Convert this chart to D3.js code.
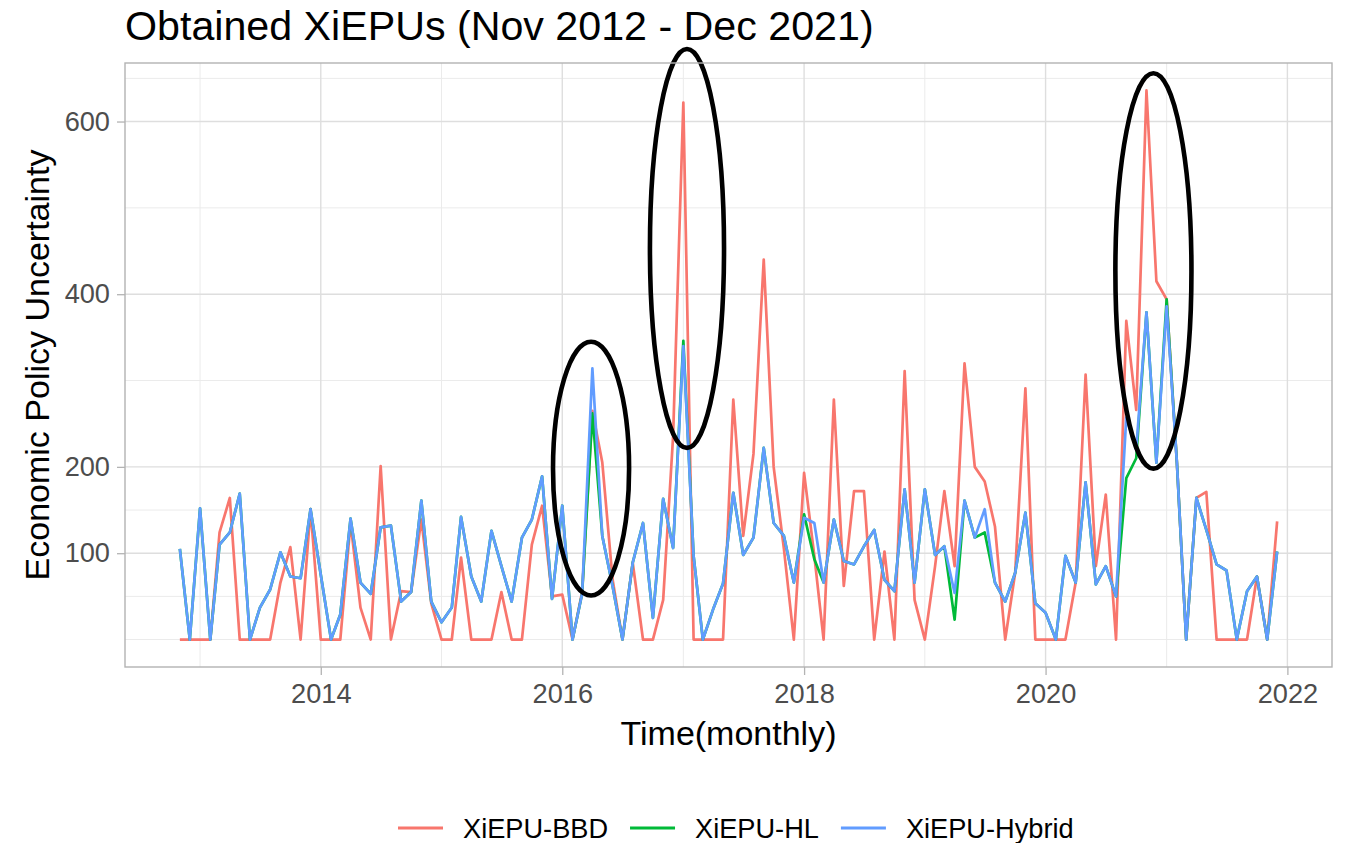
<!DOCTYPE html>
<html>
<head>
<meta charset="utf-8">
<script src="https://cdn.jsdelivr.net/npm/d3@7"></script>
<style>
  body { margin: 0; background: #fff; }
  text { font-family: "Liberation Sans", Arial, sans-serif; }
</style>
</head>
<body>
<svg id="viz" width="1350" height="843"></svg>
<script>
// monthly observations, Nov 2012 .. Dec 2021
var months = d3.timeMonth.range(new Date(2012, 10, 1), new Date(2022, 0, 1));

// values, one row per calendar year
var bbd = [
  0, 0,
  0, 0, 124, 164, 0, 0, 0, 0, 66, 107, 0, 151,
  0, 0, 0, 135, 37, 0, 201, 0, 56, 55, 139, 42,
  0, 0, 95, 0, 0, 0, 55, 0, 0, 110, 155, 50,
  52, 0, 55, 265, 205, 70, 0, 89, 0, 0, 46, 235,
  622, 0, 0, 0, 0, 278, 120, 215, 440, 200, 105, 0,
  193, 97, 0, 278, 62, 172, 172, 0, 102, 0, 311, 46,
  0, 85, 172, 85, 320, 200, 183, 131, 0, 77, 291, 0,
  0, 0, 0, 66, 307, 85, 168, 0, 369, 266, 636, 415,
  394, 205, 0, 164, 171, 0, 0, 0, 0, 73, 0, 137
];
var hl = [
  105, 0,
  152, 0, 110, 124, 169, 0, 37, 58, 101, 73, 71, 151,
  75, 0, 29, 140, 66, 53, 130, 132, 44, 55, 161, 44,
  20, 37, 142, 73, 44, 126, 85, 44, 118, 139, 189, 47,
  155, 0, 53, 262, 120, 62, 0, 89, 135, 25, 163, 106,
  346, 97, 0, 35, 65, 170, 98, 118, 222, 135, 120, 66,
  145, 93, 66, 139, 91, 87, 108, 127, 69, 56, 174, 66,
  174, 98, 108, 23, 161, 118, 124, 66, 44, 77, 147, 42,
  31, 0, 97, 66, 182, 64, 85, 50, 187, 210, 379, 205,
  394, 205, 0, 164, 127, 87, 80, 0, 56, 73, 0, 102
];
var hybrid = [
  105, 0,
  152, 0, 110, 124, 169, 0, 37, 58, 101, 73, 71, 151,
  75, 0, 29, 140, 66, 53, 130, 132, 44, 55, 161, 44,
  20, 37, 142, 73, 44, 126, 85, 44, 118, 139, 189, 47,
  155, 0, 53, 314, 120, 62, 0, 89, 135, 25, 163, 106,
  340, 97, 0, 35, 65, 170, 98, 118, 222, 135, 120, 66,
  141, 135, 66, 139, 91, 87, 108, 127, 69, 56, 174, 66,
  174, 98, 108, 54, 161, 118, 151, 66, 44, 77, 147, 42,
  31, 0, 97, 66, 182, 64, 85, 50, 257, 220, 379, 205,
  386, 205, 0, 164, 127, 87, 80, 0, 56, 73, 0, 102
];

var seriesNames = ["XiEPU-BBD", "XiEPU-HL", "XiEPU-Hybrid"];
var seriesColors = ["#F8766D", "#00BA38", "#619CFF"];

var yBreaks = [100, 200, 400, 600];
var yMinor = [0, 50, 150, 300, 500, 650];
var xBreaks = [2014, 2016, 2018, 2020, 2022];
var xMinor = [2013, 2015, 2017, 2019, 2021];

// hand-drawn ovals: centre (date, value), half width in days, half height in value units
var ovals = [
  { date: "2016-03-28", value: 198, days: 115, span: 147 },
  { date: "2017-01-12", value: 453, days: 112, span: 231 },
  { date: "2020-11-22", value: 427, days: 115, span: 229 }
];

drawChart();

function drawChart() {
    var svg = d3.select("#viz");
    var pLeft = 125, pRight = 1332, pTop = 63, pBottom = 667;

    var t0 = months[0], t1 = months[months.length - 1];
    var pad = (t1 - t0) * 0.05;
    var x = d3.scaleTime()
        .domain([new Date(+t0 - pad), new Date(+t1 + pad)])
        .range([pLeft, pRight]);

    var all = bbd.concat(hl, hybrid);
    var yMin = d3.min(all), yMax = d3.max(all);
    var yPad = (yMax - yMin) * 0.05;
    var y = d3.scaleLinear()
        .domain([yMin - yPad, yMax + yPad])
        .range([pBottom, pTop]);

    // grid
    var grid = svg.append("g");
    grid.selectAll(".ymin").data(yMinor).enter().append("line")
        .attr("x1", pLeft).attr("x2", pRight)
        .attr("y1", d => y(d)).attr("y2", d => y(d))
        .attr("stroke", "#EBEBEB").attr("stroke-width", 1);
    grid.selectAll(".xmin").data(xMinor).enter().append("line")
        .attr("y1", pTop).attr("y2", pBottom)
        .attr("x1", d => x(new Date(d, 0, 1))).attr("x2", d => x(new Date(d, 0, 1)))
        .attr("stroke", "#EBEBEB").attr("stroke-width", 1);
    grid.selectAll(".ymaj").data(yBreaks).enter().append("line")
        .attr("x1", pLeft).attr("x2", pRight)
        .attr("y1", d => y(d)).attr("y2", d => y(d))
        .attr("stroke", "#DEDEDE").attr("stroke-width", 1.4);
    grid.selectAll(".xmaj").data(xBreaks).enter().append("line")
        .attr("y1", pTop).attr("y2", pBottom)
        .attr("x1", d => x(new Date(d, 0, 1))).attr("x2", d => x(new Date(d, 0, 1)))
        .attr("stroke", "#DEDEDE").attr("stroke-width", 1.4);

    // series lines
    var line = d3.line()
        .x((d, i) => x(months[i]))
        .y(d => y(d));

    [bbd, hl, hybrid].forEach(function(vals, k) {
        svg.append("path")
            .datum(vals)
            .attr("d", line)
            .attr("fill", "none")
            .attr("stroke", seriesColors[k])
            .attr("stroke-width", 2.7)
            .attr("stroke-linejoin", "round");
    });

    // ovals
    svg.selectAll(".oval").data(ovals).enter().append("ellipse")
        .attr("cx", d => x(new Date(d.date)))
        .attr("cy", d => y(d.value))
        .attr("rx", d => x(new Date(+new Date(d.date) + d.days * 864e5)) - x(new Date(d.date)))
        .attr("ry", d => y(0) - y(d.span))
        .attr("fill", "none")
        .attr("stroke", "#000")
        .attr("stroke-width", 4.6);

    // panel border
    svg.append("rect")
        .attr("x", pLeft).attr("y", pTop)
        .attr("width", pRight - pLeft).attr("height", pBottom - pTop)
        .attr("fill", "none").attr("stroke", "#B3B3B3").attr("stroke-width", 1.4);

    // axes
    var yAxis = svg.append("g")
        .attr("transform", "translate(" + pLeft + ",0)")
        .call(d3.axisLeft(y).tickValues(yBreaks).tickSize(8).tickPadding(7));
    var xAxis = svg.append("g")
        .attr("transform", "translate(0," + pBottom + ")")
        .call(d3.axisBottom(x)
            .tickValues(xBreaks.map(d => new Date(d, 0, 1)))
            .tickFormat(d3.timeFormat("%Y"))
            .tickSize(8).tickPadding(9));
    [yAxis, xAxis].forEach(function(g) {
        g.select(".domain").remove();
        g.selectAll(".tick line").attr("stroke", "#B3B3B3").attr("stroke-width", 1.3);
        g.selectAll(".tick text")
            .attr("fill", "#4D4D4D")
            .style("font-size", "27.2px")
            .style("font-family", "'Liberation Sans', Arial, sans-serif");
    });

    // titles
    svg.append("text")
        .attr("x", pLeft).attr("y", 40)
        .style("font-size", "41.2px")
        .text("Obtained XiEPUs (Nov 2012 - Dec 2021)");
    svg.append("text")
        .attr("x", (pLeft + pRight) / 2).attr("y", 745)
        .attr("text-anchor", "middle")
        .style("font-size", "34px")
        .text("Time(monthly)");
    svg.append("text")
        .attr("transform", "translate(49," + ((pTop + pBottom) / 2) + ") rotate(-90)")
        .attr("text-anchor", "middle")
        .style("font-size", "34px")
        .text("Economic Policy Uncertainty");

    // legend
    var lx = 398, ly = 828;
    seriesNames.forEach(function(name, k) {
        svg.append("line")
            .attr("x1", lx).attr("x2", lx + 45)
            .attr("y1", ly).attr("y2", ly)
            .attr("stroke", seriesColors[k]).attr("stroke-width", 2.8);
        var t = svg.append("text")
            .attr("x", lx + 65).attr("y", ly + 9.5)
            .style("font-size", "27.2px")
            .text(name);
        lx = lx + 65 + t.node().getComputedTextLength() + 22;
    });
}
</script>
</body>
</html>
